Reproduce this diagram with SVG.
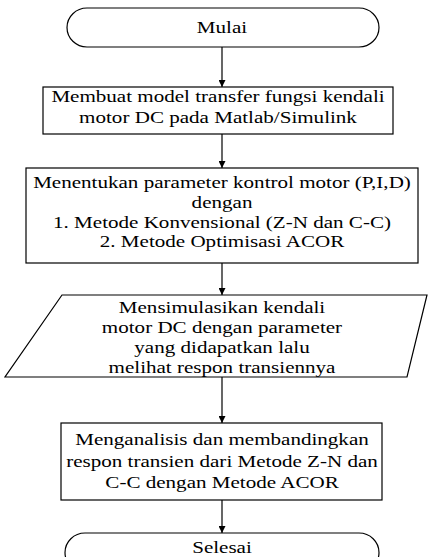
<svg xmlns="http://www.w3.org/2000/svg" width="428" height="557" viewBox="0 0 428 557">
<defs>
<style>
.s{fill:#fff;stroke:#000;stroke-width:1.2}
.t{font-family:"Liberation Serif","Times New Roman",serif;font-size:17px;fill:#000;text-anchor:middle}
.c{stroke:#000;stroke-width:1.2;fill:none}
</style>
<marker id="ah" viewBox="0 0 10 10" refX="10" refY="5" markerWidth="7" markerHeight="7" markerUnits="userSpaceOnUse" orient="auto"><path d="M0,0 L10,5 L0,10 z" fill="#000"/></marker>
</defs>
<rect width="428" height="557" fill="#fff"/>
<g id="connectors">
<line class="c" x1="222" y1="47" x2="222" y2="87" marker-end="url(#ah)"/>
<line class="c" x1="222" y1="134" x2="222" y2="168" marker-end="url(#ah)"/>
<line class="c" x1="222" y1="263" x2="222" y2="295" marker-end="url(#ah)"/>
<line class="c" x1="222" y1="377" x2="222" y2="423" marker-end="url(#ah)"/>
<line class="c" x1="222" y1="500" x2="222" y2="533" marker-end="url(#ah)"/>
</g>
<g id="mulai">
<rect class="s" x="67" y="8" width="312" height="39" rx="20" ry="19.5"/>
<text class="t" transform="translate(222,0) scale(1.24,1)" x="0" y="33">Mulai</text>
</g>
<g id="model">
<rect class="s" x="43" y="87" width="350" height="47"/>
<text class="t" transform="translate(218,0) scale(1.24,1)" x="0" y="102">Membuat model transfer fungsi kendali</text>
<text class="t" transform="translate(218,0) scale(1.24,1)" x="0" y="123">motor DC pada Matlab/Simulink</text>
</g>
<g id="parameter">
<rect class="s" x="26" y="168" width="392" height="95"/>
<text class="t" transform="translate(222,0) scale(1.24,1)" x="0" y="188">Menentukan parameter kontrol motor (P,I,D)</text>
<text class="t" transform="translate(222,0) scale(1.24,1)" x="0" y="208">dengan</text>
<text class="t" transform="translate(222,0) scale(1.24,1)" x="0" y="228">1. Metode Konvensional (Z-N dan C-C)</text>
<text class="t" transform="translate(222,0) scale(1.24,1)" x="0" y="247">2. Metode Optimisasi ACOR</text>
</g>
<g id="simulasi">
<polygon class="s" points="62,295 427,295 407,377 5,377"/>
<text class="t" transform="translate(222,0) scale(1.24,1)" x="0" y="313">Mensimulasikan kendali</text>
<text class="t" transform="translate(222,0) scale(1.24,1)" x="0" y="333">motor DC dengan parameter</text>
<text class="t" transform="translate(222,0) scale(1.24,1)" x="0" y="353">yang didapatkan lalu</text>
<text class="t" transform="translate(222,0) scale(1.24,1)" x="0" y="373">melihat respon transiennya</text>
</g>
<g id="analisis">
<rect class="s" x="61" y="423" width="321" height="77"/>
<text class="t" transform="translate(222,0) scale(1.24,1)" x="0" y="445">Menganalisis dan membandingkan</text>
<text class="t" transform="translate(222,0) scale(1.24,1)" x="0" y="467">respon transien dari Metode Z-N dan</text>
<text class="t" transform="translate(222,0) scale(1.24,1)" x="0" y="488">C-C dengan Metode ACOR</text>
</g>
<g id="selesai">
<rect class="s" x="65" y="533" width="314" height="39" rx="20" ry="19.5"/>
<text class="t" transform="translate(222,0) scale(1.24,1)" x="0" y="553">Selesai</text>
</g>
</svg>
